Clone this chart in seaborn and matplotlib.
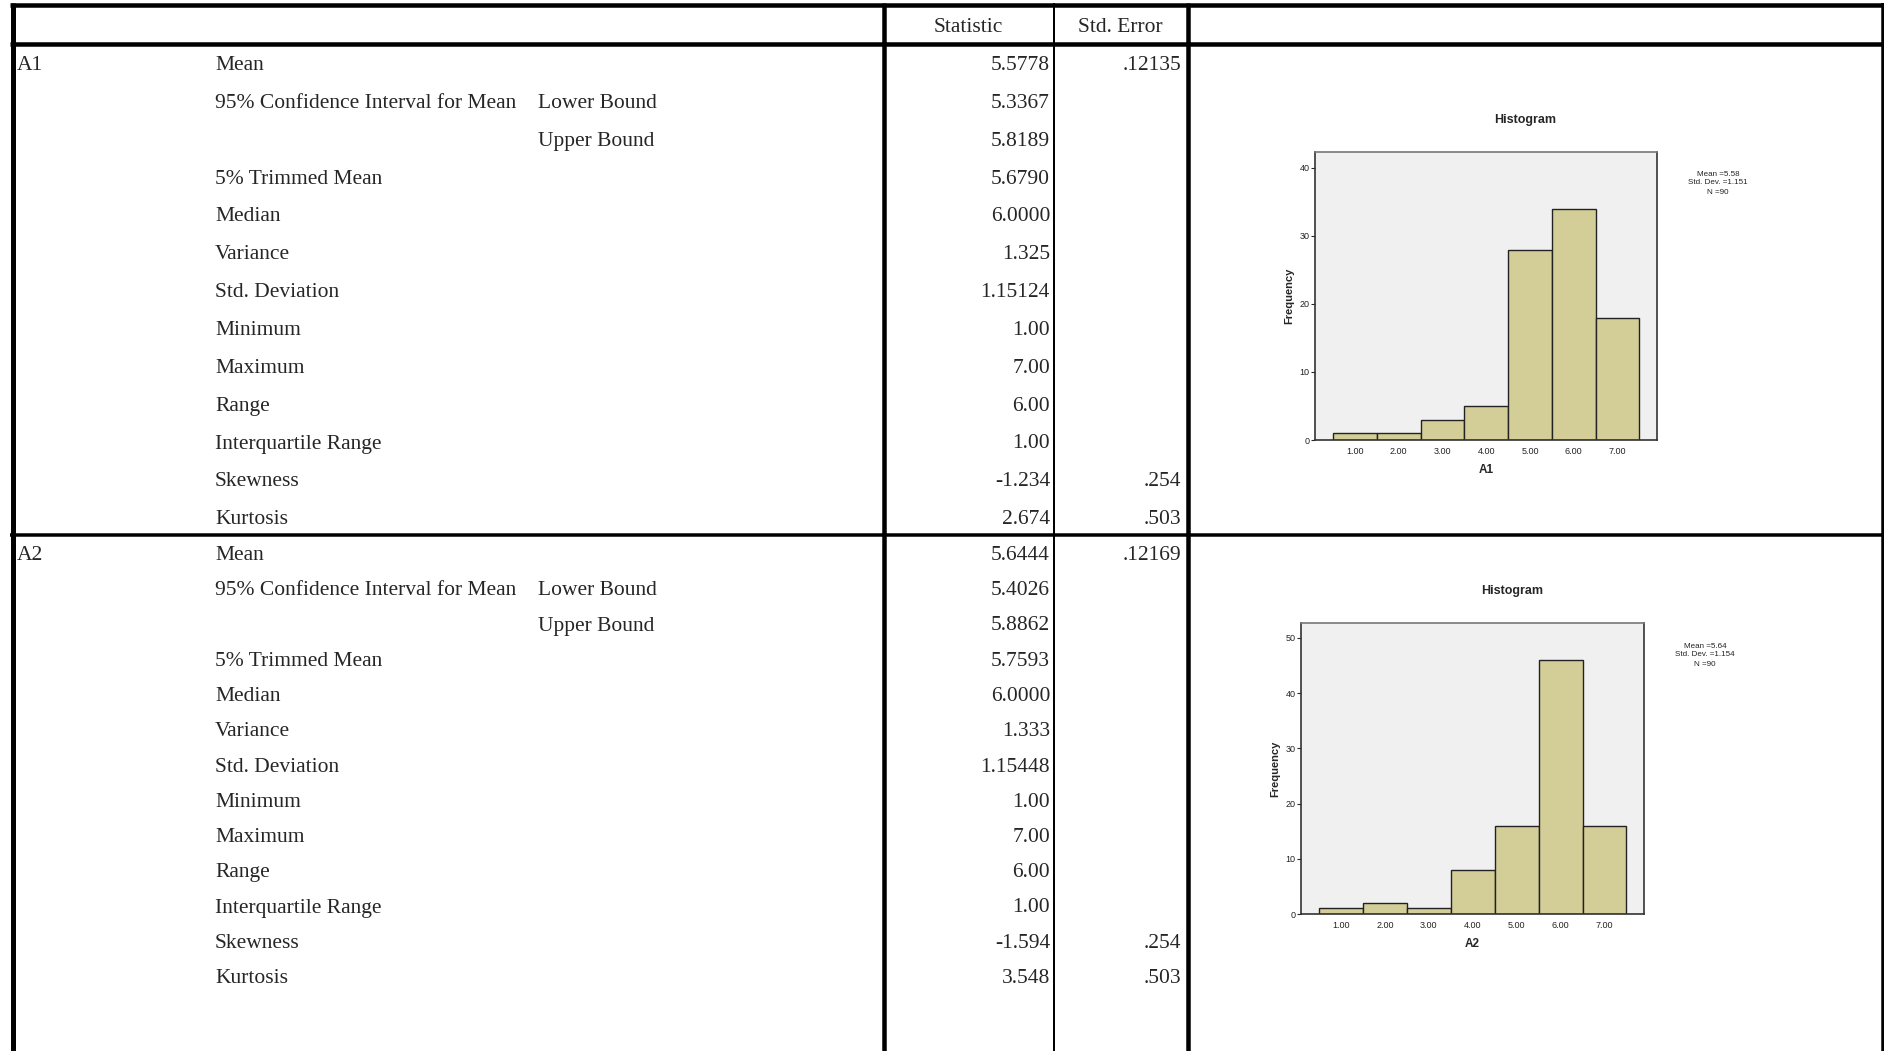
import matplotlib
matplotlib.use("Agg")
import matplotlib.pyplot as plt
import numpy as np
import pandas as pd
import seaborn as sns

# Datos de la tabla (Explore de SPSS)
row_labels = ["Mean", "95% Confidence Interval for Mean", "", "5% Trimmed Mean", "Median",
              "Variance", "Std. Deviation", "Minimum", "Maximum", "Range",
              "Interquartile Range", "Skewness", "Kurtosis"]
sub_labels = ["", "Lower Bound", "Upper Bound", "", "", "", "", "", "", "", "", "", ""]

a1_stat = ["5.5778", "5.3367", "5.8189", "5.6790", "6.0000", "1.325", "1.15124",
           "1.00", "7.00", "6.00", "1.00", "-1.234", "2.674"]
a1_se = [".12135", "", "", "", "", "", "", "", "", "", "", ".254", ".503"]
a2_stat = ["5.6444", "5.4026", "5.8862", "5.7593", "6.0000", "1.333", "1.15448",
           "1.00", "7.00", "6.00", "1.00", "-1.594", "3.548"]
a2_se = [".12169", "", "", "", "", "", "", "", "", "", "", ".254", ".503"]

# Histogramas: valores y frecuencias
hist_values = [1, 2, 3, 4, 5, 6, 7]
a1_counts = [1, 1, 3, 5, 28, 34, 18]
a2_counts = [1, 2, 1, 8, 16, 46, 16]
a1_info = ["Mean =5.58", "Std. Dev. =1.151", "N =90"]
a2_info = ["Mean =5.64", "Std. Dev. =1.154", "N =90"]
tick_labels = ["1.00", "2.00", "3.00", "4.00", "5.00", "6.00", "7.00"]

W, H = 1884, 1051
PT = 0.72  # px -> pt a 100 dpi

sns.set_style("white")
plt.rcParams['font.family'] = ['Liberation Serif', 'DejaVu Serif']

fig = plt.figure(figsize=(W / 100, H / 100), dpi=100)
fig.patch.set_facecolor("white")

# Capa de la tabla en coordenadas de pixel
tab = fig.add_axes([0, 0, 1, 1])
tab.set_xlim(0, W)
tab.set_ylim(H, 0)
tab.axis("off")

def hline(y, x0, x1, w):
    tab.plot([x0, x1], [y, y], color="black", lw=w * PT, solid_capstyle="butt")

def vline(x, y0, y1, w):
    tab.plot([x, x], [y0, y1], color="black", lw=w * PT, solid_capstyle="butt")

hline(5, 10, W, 4.5)
hline(43.5, 10, W, 4.5)
hline(534.5, 10, W, 3.5)
vline(12.5, 3, H, 5)
vline(883.5, 3, H, 4.5)
vline(1054, 3, H, 2)
vline(1187.5, 3, H, 4.5)
vline(1882.5, 3, H, 3.5)

fs = 15.5
tab.text(968, 27, "Statistic", ha="center", va="center", fontsize=fs)
tab.text(1120, 27, "Std. Error", ha="center", va="center", fontsize=fs)

def block(name, y0, step, stats, ses):
    tab.text(17, y0, name, ha="left", va="center", fontsize=fs)
    for i in range(len(row_labels)):
        y = y0 + i * step
        if row_labels[i]:
            tab.text(215, y, row_labels[i], ha="left", va="center", fontsize=fs)
        if sub_labels[i]:
            tab.text(538, y, sub_labels[i], ha="left", va="center", fontsize=fs)
        tab.text(1050, y, stats[i], ha="right", va="center", fontsize=fs)
        if ses[i]:
            tab.text(1181, y, ses[i], ha="right", va="center", fontsize=fs)

block("A1", 65.5, 37.85, a1_stat, a1_se)
block("A2", 555.5, 35.25, a2_stat, a2_se)

# Histogramas
sans = ['Liberation Sans', 'DejaVu Sans']
bar_color = "#D3CE97"

def histogram(box, counts, ymax, yticks, label, info, title_xy, info_xy):
    left, top, right, bottom = box
    ax = fig.add_axes([left / W, 1 - bottom / H, (right - left) / W, (bottom - top) / H])
    df = pd.DataFrame({"value": hist_values, "count": counts})
    sns.histplot(data=df, x="value", weights="count", discrete=True, ax=ax,
                 color=bar_color, edgecolor="#222222", linewidth=1.0, alpha=1)
    ax.set_facecolor("#F0F0F0")
    ax.set_xlim(0.09, 7.9)
    ax.set_ylim(0, ymax)
    ax.set_xticks(hist_values)
    ax.set_xticklabels(tick_labels, family=sans, fontsize=6.5, color="#222222")
    ax.set_yticks(yticks)
    ax.set_yticklabels([str(t) for t in yticks], family=sans, fontsize=6.5, color="#222222")
    ax.tick_params(axis="x", length=0, pad=5)
    ax.tick_params(axis="y", length=3, width=0.8, direction="out", pad=1, left=True)
    ax.set_ylabel("Frequency", family=sans, fontsize=8, fontweight="bold", labelpad=4)
    ax.set_xlabel(label, family=sans, fontsize=8.5, fontweight="bold", labelpad=6)
    for s in ax.spines.values():
        s.set_visible(True)
        s.set_color("#333333")
        s.set_linewidth(1.2)
    ax.spines["top"].set_color("#777777")
    ax.grid(False)
    tab.text(title_xy[0], title_xy[1], "Histogram", ha="center", va="center",
             family=sans, fontsize=9, fontweight="bold")
    for i, t in enumerate(info):
        tab.text(info_xy[0], info_xy[1] + i * 9, t, ha="center", va="center",
                 family=sans, fontsize=5.8, color="#222222")

histogram((1315, 152, 1657, 440), a1_counts, 42.35, [0, 10, 20, 30, 40], "A1",
          a1_info, (1525, 120), (1718, 174))
histogram((1301, 623, 1644, 914), a2_counts, 52.7, [0, 10, 20, 30, 40, 50], "A2",
          a2_info, (1512, 591), (1705, 646))

fig.savefig("out.png", dpi=100, facecolor="white")
